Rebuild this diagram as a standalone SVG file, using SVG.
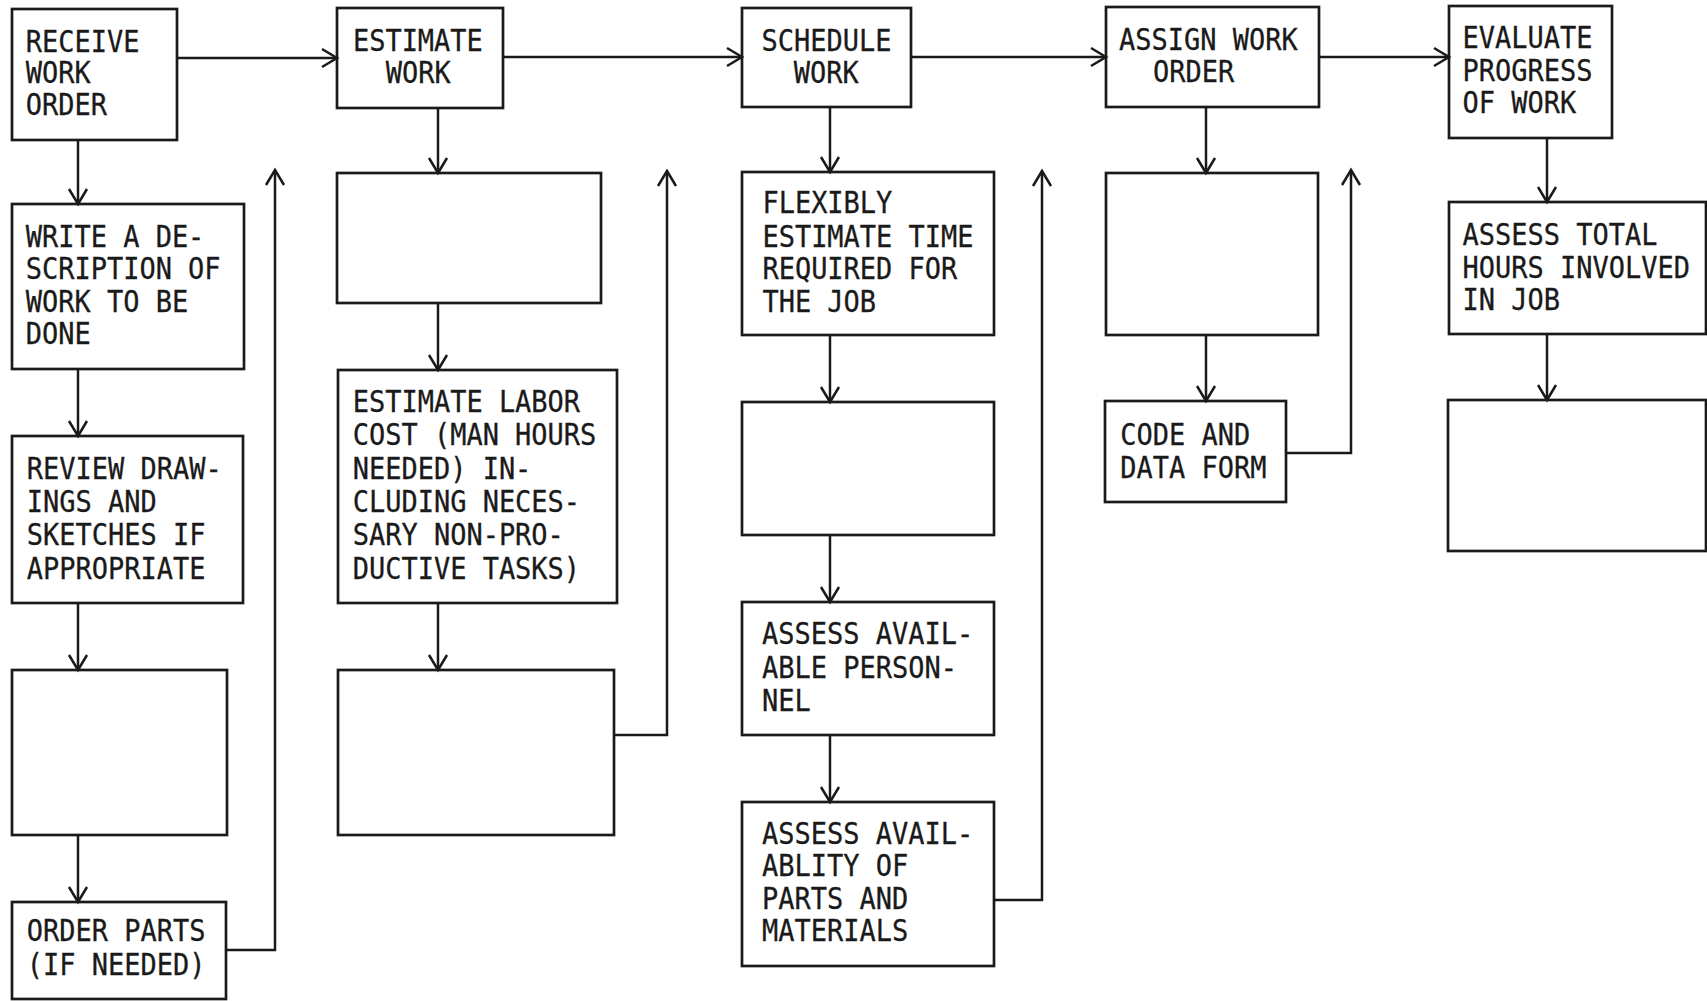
<svg xmlns="http://www.w3.org/2000/svg" width="1707" height="1001" viewBox="0 0 1707 1001">
<style>
.box{fill:none;stroke:#1a1a1a;stroke-width:2.7}
.c{fill:none;stroke:#1a1a1a;stroke-width:2.5}
.t{font-family:"DejaVu Sans Mono","Liberation Mono",monospace;font-size:30px;fill:#1a1a1a;stroke:#1a1a1a;stroke-width:0.3}
</style>
<defs>
<marker id="ah" viewBox="0 0 15 20" refX="15" refY="10" markerWidth="15" markerHeight="20" markerUnits="userSpaceOnUse" orient="auto" overflow="visible">
<path d="M0,1 L15,10 L0,19" fill="none" stroke="#1a1a1a" stroke-width="2.5"/>
</marker>
</defs>
<rect width="1707" height="1001" fill="#ffffff"/>
<g id="connectors">
<path class="c" d="M177,58 H337" marker-end="url(#ah)"/>
<path class="c" d="M503,57 H742" marker-end="url(#ah)"/>
<path class="c" d="M911,57 H1106" marker-end="url(#ah)"/>
<path class="c" d="M1319,57 H1449" marker-end="url(#ah)"/>
<path class="c" d="M78,140 V204" marker-end="url(#ah)"/>
<path class="c" d="M78,369 V436" marker-end="url(#ah)"/>
<path class="c" d="M78,603 V670" marker-end="url(#ah)"/>
<path class="c" d="M78,835 V902" marker-end="url(#ah)"/>
<path class="c" d="M226,950 H275 V170" marker-end="url(#ah)"/>
<path class="c" d="M438,108 V173" marker-end="url(#ah)"/>
<path class="c" d="M438,303 V370" marker-end="url(#ah)"/>
<path class="c" d="M438,603 V670" marker-end="url(#ah)"/>
<path class="c" d="M614,735 H667 V171" marker-end="url(#ah)"/>
<path class="c" d="M830,107 V172" marker-end="url(#ah)"/>
<path class="c" d="M830,335 V402" marker-end="url(#ah)"/>
<path class="c" d="M830,535 V602" marker-end="url(#ah)"/>
<path class="c" d="M830,735 V802" marker-end="url(#ah)"/>
<path class="c" d="M994,900 H1042 V171" marker-end="url(#ah)"/>
<path class="c" d="M1206,107 V173" marker-end="url(#ah)"/>
<path class="c" d="M1206,335 V401" marker-end="url(#ah)"/>
<path class="c" d="M1286,453 H1351 V170" marker-end="url(#ah)"/>
<path class="c" d="M1547,138 V202" marker-end="url(#ah)"/>
<path class="c" d="M1547,334 V400" marker-end="url(#ah)"/>
</g>
<g id="receive"><rect class="box" x="12" y="9" width="165" height="131"/>
<text class="t" transform="translate(25.7,0) scale(0.9,1)"><tspan x="0" y="51.7">RECEIVE</tspan><tspan x="0" y="83.3">WORK</tspan><tspan x="0" y="115">ORDER</tspan></text></g>
<g id="estimate"><rect class="box" x="337" y="8" width="166" height="100"/>
<text class="t" transform="translate(352.9,0) scale(0.9,1)"><tspan x="0" y="51">ESTIMATE</tspan><tspan x="36.4" y="83.3">WORK</tspan></text></g>
<g id="schedule"><rect class="box" x="742" y="8" width="169" height="99"/>
<text class="t" transform="translate(761.6,0) scale(0.9,1)"><tspan x="0" y="50.7">SCHEDULE</tspan><tspan x="35.8" y="82.7">WORK</tspan></text></g>
<g id="assign"><rect class="box" x="1106" y="7" width="213" height="100"/>
<text class="t" transform="translate(1119,0) scale(0.9,1)"><tspan x="0" y="50">ASSIGN WORK</tspan><tspan x="37.8" y="81.7">ORDER</tspan></text></g>
<g id="evaluate"><rect class="box" x="1449" y="6" width="163" height="132"/>
<text class="t" transform="translate(1462.6,0) scale(0.9,1)"><tspan x="0" y="48.3">EVALUATE</tspan><tspan x="0" y="81">PROGRESS</tspan><tspan x="0" y="113.3">OF WORK</tspan></text></g>
<g id="write"><rect class="box" x="12" y="204" width="232" height="165"/>
<text class="t" transform="translate(25.7,0) scale(0.9,1)"><tspan x="0" y="246.7">WRITE A DE-</tspan><tspan x="0" y="279.3">SCRIPTION OF</tspan><tspan x="0" y="311.7">WORK TO BE</tspan><tspan x="0" y="344">DONE</tspan></text></g>
<g id="review"><rect class="box" x="12" y="436" width="231" height="167"/>
<text class="t" transform="translate(26.8,0) scale(0.9,1)"><tspan x="0" y="479.1">REVIEW DRAW-</tspan><tspan x="0" y="512">INGS AND</tspan><tspan x="0" y="545.3">SKETCHES IF</tspan><tspan x="0" y="578.6">APPROPRIATE</tspan></text></g>
<g id="blank-left"><rect class="box" x="12" y="670" width="215" height="165"/></g>
<g id="order-parts"><rect class="box" x="12" y="902" width="214" height="97"/>
<text class="t" transform="translate(26.8,0) scale(0.9,1)"><tspan x="0" y="941">ORDER PARTS</tspan><tspan x="0" y="975">(IF NEEDED)</tspan></text></g>
<g id="blank-est-1"><rect class="box" x="337" y="173" width="264" height="130"/></g>
<g id="labor"><rect class="box" x="338" y="370" width="279" height="233"/>
<text class="t" transform="translate(352.7,0) scale(0.9,1)"><tspan x="0" y="411.7">ESTIMATE LABOR</tspan><tspan x="0" y="445.4">COST (MAN HOURS</tspan><tspan x="0" y="479.1">NEEDED) IN-</tspan><tspan x="0" y="512">CLUDING NECES-</tspan><tspan x="0" y="545.3">SARY NON-PRO-</tspan><tspan x="0" y="578.6">DUCTIVE TASKS)</tspan></text></g>
<g id="blank-est-2"><rect class="box" x="338" y="670" width="276" height="165"/></g>
<g id="flexibly"><rect class="box" x="742" y="172" width="252" height="163"/>
<text class="t" transform="translate(762.4,0) scale(0.9,1)"><tspan x="0" y="213.3">FLEXIBLY</tspan><tspan x="0" y="246.7">ESTIMATE TIME</tspan><tspan x="0" y="279.3">REQUIRED FOR</tspan><tspan x="0" y="311.7">THE JOB</tspan></text></g>
<g id="blank-sched"><rect class="box" x="742" y="402" width="252" height="133"/></g>
<g id="personnel"><rect class="box" x="742" y="602" width="252" height="133"/>
<text class="t" transform="translate(762,0) scale(0.9,1)"><tspan x="0" y="644.4">ASSESS AVAIL-</tspan><tspan x="0" y="678.1">ABLE PERSON-</tspan><tspan x="0" y="711">NEL</tspan></text></g>
<g id="parts"><rect class="box" x="742" y="802" width="252" height="164"/>
<text class="t" transform="translate(762,0) scale(0.9,1)"><tspan x="0" y="843.8">ASSESS AVAIL-</tspan><tspan x="0" y="876.3">ABLITY OF</tspan><tspan x="0" y="909.1">PARTS AND</tspan><tspan x="0" y="940.8">MATERIALS</tspan></text></g>
<g id="blank-assign"><rect class="box" x="1106" y="173" width="212" height="162"/></g>
<g id="code-form"><rect class="box" x="1105" y="401" width="181" height="101"/>
<text class="t" transform="translate(1120.3,0) scale(0.9,1)"><tspan x="0" y="445.4">CODE AND</tspan><tspan x="0" y="477.9">DATA FORM</tspan></text></g>
<g id="total-hours"><rect class="box" x="1449" y="202" width="257" height="132"/>
<text class="t" transform="translate(1462.6,0) scale(0.9,1)"><tspan x="0" y="245">ASSESS TOTAL</tspan><tspan x="0" y="277.7">HOURS INVOLVED</tspan><tspan x="0" y="310">IN JOB</tspan></text></g>
<g id="blank-eval"><rect class="box" x="1448" y="400" width="258" height="151"/></g>
</svg>
